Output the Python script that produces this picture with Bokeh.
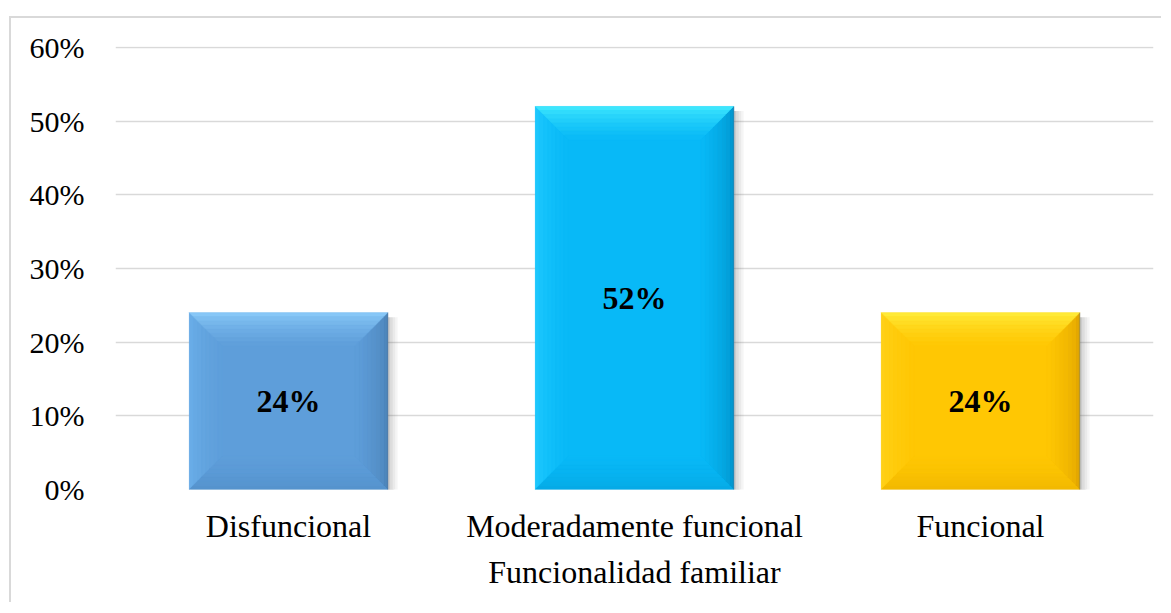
from bokeh.plotting import figure
from bokeh.models import Range1d, FixedTicker, NumeralTickFormatter, ColumnDataSource
from bokeh.embed import file_html
from bokeh.resources import INLINE
from bokeh.core.properties import value

# ---- data ----
categories = ["Disfuncional", "Moderadamente funcional", "Funcional"]
values = [0.24, 0.52, 0.24]
value_labels = ["24%", "52%", "24%"]
axis_title = "Funcionalidad familiar"
y_ticks = [0.0, 0.1, 0.2, 0.3, 0.4, 0.5, 0.6]

# ---- style ----
face = ["#5E9EDA", "#08B9F7", "#FFC703"]
top_edge = ["#92D2FF", "#4CF2FF", "#FFF446"]
left_edge = ["#6CB0EA", "#22CBFF", "#FFD31C"]
right_edge = ["#4A80B4", "#0090C6", "#DDA000"]
bottom_edge = ["#5290CA", "#04A6E2", "#EEB500"]
FONT = "Liberation Serif"
BAR_W = 0.573
BX = 0.095   # bevel width (x units)
BY = 0.045   # bevel height (y units)
NSTRIP = 8


def hx(c):
    c = c.lstrip("#")
    return [int(c[i:i + 2], 16) for i in (0, 2, 4)]


def mix(a, b, t):
    A, B = hx(a), hx(b)
    return "#%02x%02x%02x" % tuple(int(round(A[k] + (B[k] - A[k]) * t)) for k in range(3))


p = figure(width=1152, height=586, output_backend="svg", toolbar_location=None,
           x_range=Range1d(0, 3), y_range=Range1d(0, 0.6014),
           min_border_left=104, min_border_right=10, min_border_top=28,
           min_border_bottom=115)
p.styles = {"border-top": "2px solid #d9d9d9", "border-left": "2px solid #d9d9d9",
            "margin-left": "9px", "margin-top": "16px"}
p.outline_line_color = None
p.background_fill_color = "white"
p.border_fill_color = "white"

centers = [i + 0.5 for i in range(len(categories))]

# shadow to the right of each bar
px = 1.0 / 346.0
for k, a in enumerate([0.30, 0.20, 0.12, 0.06]):
    p.quad(left=[c + BAR_W / 2 + k * 2.5 * px for c in centers],
           right=[c + BAR_W / 2 + (k + 1) * 2.5 * px for c in centers],
           bottom=[-0.004] * 3, top=[v - 0.006 for v in values],
           fill_color="#555555", fill_alpha=a, line_color=None)
p.quad(left=[c - BAR_W / 2 + 2 * px for c in centers],
       right=[c + BAR_W / 2 + 6 * px for c in centers],
       bottom=[-0.005] * 3, top=[0] * 3,
       fill_color="#777777", fill_alpha=0.25, line_color=None)

# bar faces
p.vbar(x=centers, width=BAR_W, top=values, bottom=0, fill_color=face, line_color=None)

# soft bevels (graded strips)
xs, ys, cols = [], [], []
for i, (c, v) in enumerate(zip(centers, values)):
    l, r = c - BAR_W / 2, c + BAR_W / 2
    for k in range(NSTRIP):
        d0, d1 = k / NSTRIP, (k + 1) / NSTRIP
        t = ((k + 0.5) / NSTRIP) ** 0.55
        # left
        xs.append([l + BX * d0, l + BX * d1, l + BX * d1, l + BX * d0])
        ys.append([BY * d0, BY * d1, v - BY * d1, v - BY * d0])
        cols.append(mix(left_edge[i], face[i], t))
        # right
        xs.append([r - BX * d0, r - BX * d1, r - BX * d1, r - BX * d0])
        ys.append([BY * d0, BY * d1, v - BY * d1, v - BY * d0])
        cols.append(mix(right_edge[i], face[i], t))
        # bottom
        xs.append([l + BX * d0, r - BX * d0, r - BX * d1, l + BX * d1])
        ys.append([BY * d0, BY * d0, BY * d1, BY * d1])
        cols.append(mix(bottom_edge[i], face[i], t))
        # top
        xs.append([l + BX * d0, r - BX * d0, r - BX * d1, l + BX * d1])
        ys.append([v - BY * d0, v - BY * d0, v - BY * d1, v - BY * d1])
        cols.append(mix(top_edge[i], face[i], t))
p.patches(xs="xs", ys="ys", fill_color="cols", line_color="cols", line_width=0.6,
          source=ColumnDataSource(dict(xs=xs, ys=ys, cols=cols)))

# thin right edge line
p.segment(x0=[c + BAR_W / 2 for c in centers], y0=[0] * 3,
          x1=[c + BAR_W / 2 for c in centers], y1=values,
          line_color="#3a5a7a", line_alpha=0.3, line_width=1.5)

# value labels
p.text(x=centers, y=[v / 2 for v in values], text=value_labels,
       text_font=value(FONT), text_font_size="32px", text_font_style="bold",
       text_align="center", text_baseline="middle", text_color="black")

# axes
p.xaxis.ticker = FixedTicker(ticks=centers)
p.xaxis.major_label_overrides = {c: n for c, n in zip(centers, categories)}
p.xaxis.axis_label = axis_title
p.xaxis.axis_label_text_font = FONT
p.xaxis.axis_label_text_font_size = "32px"
p.xaxis.axis_label_text_font_style = "normal"
p.xaxis.axis_label_text_color = "black"
p.xaxis.axis_label_standoff = 7
p.xaxis.major_label_text_font = FONT
p.xaxis.major_label_text_font_size = "32px"
p.xaxis.major_label_text_color = "black"
p.xaxis.major_label_standoff = 12
p.xaxis.axis_line_color = None
p.xaxis.major_tick_line_color = None
p.xaxis.minor_tick_line_color = None

p.yaxis.ticker = FixedTicker(ticks=y_ticks)
p.yaxis.formatter = NumeralTickFormatter(format="0%")
p.yaxis.major_label_text_font = FONT
p.yaxis.major_label_text_font_size = "30px"
p.yaxis.major_label_text_color = "black"
p.yaxis.major_label_standoff = 25
p.yaxis.axis_line_color = None
p.yaxis.major_tick_line_color = None
p.yaxis.minor_tick_line_color = None

p.xgrid.grid_line_color = None
p.ygrid.grid_line_color = "#d9d9d9"
p.ygrid.grid_line_width = 1.5
p.ygrid.level = "underlay"

open("out.html", "w").write(file_html(p, INLINE))
